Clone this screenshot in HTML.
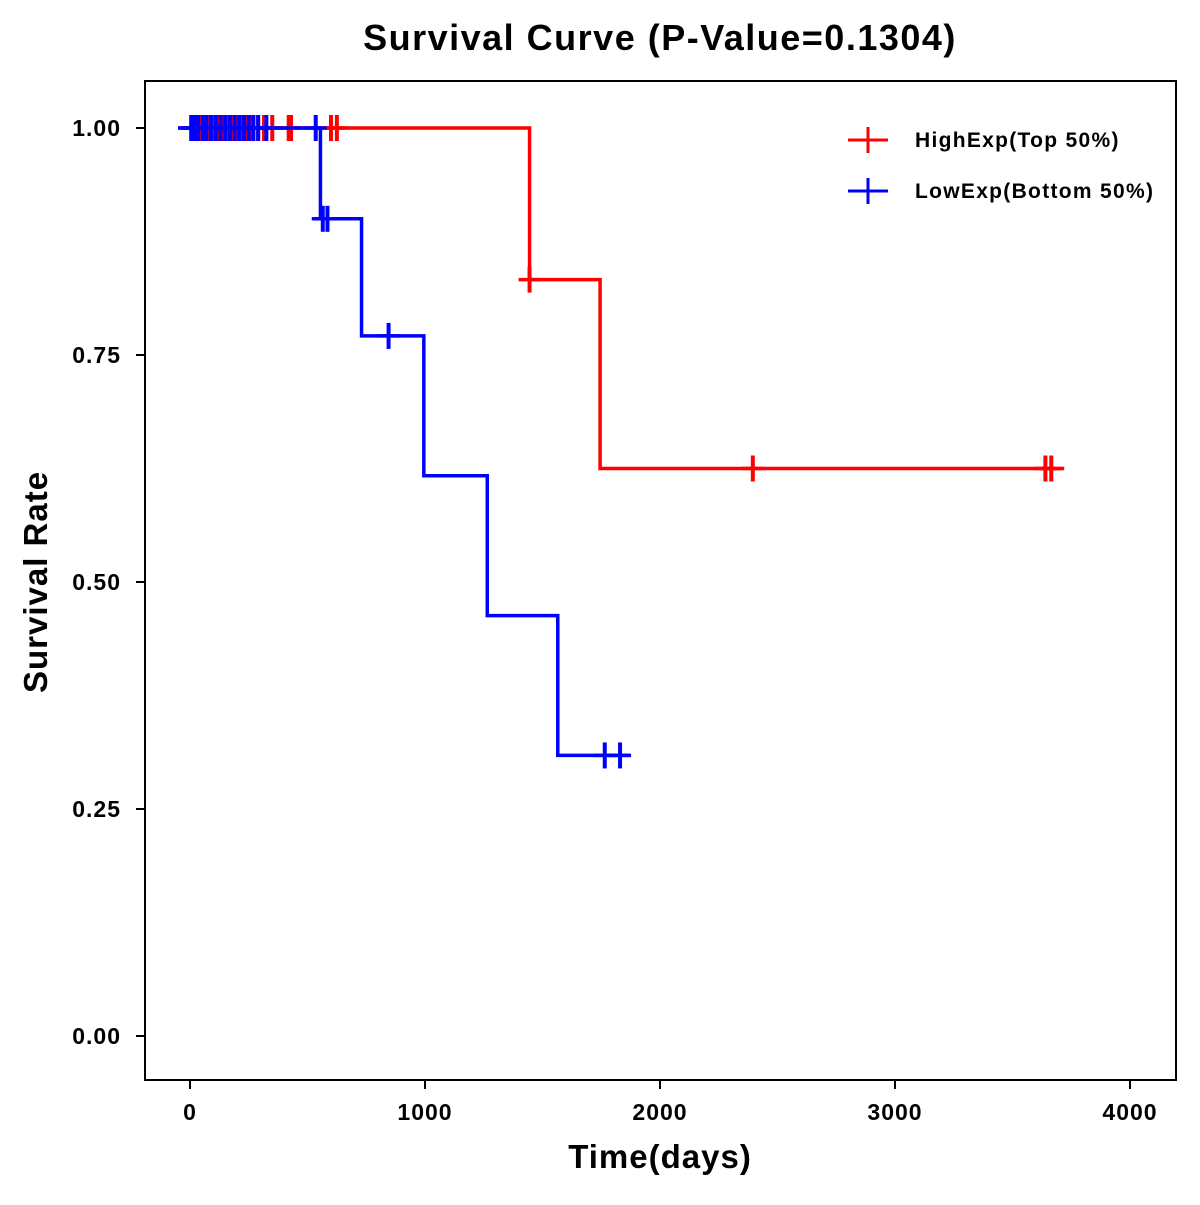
<!DOCTYPE html>
<html><head><meta charset="utf-8"><style>
body{margin:0;background:#fff}
svg text{font-family:"Liberation Sans",Arial,sans-serif;font-weight:bold}
</style></head><body>
<svg id="c" width="1200" height="1200">
<rect x="0" y="0" width="1200" height="1200" fill="#fff"/>
<text x="660" y="50" font-size="36" letter-spacing="1.5" text-anchor="middle">Survival Curve (P-Value=0.1304)</text>
<rect x="145" y="81" width="1031" height="999" fill="none" stroke="#000" stroke-width="2"/>
<text x="660" y="1168" font-size="33" letter-spacing="1" text-anchor="middle">Time(days)</text>
<text transform="translate(47,582) rotate(-90)" font-size="33" letter-spacing="1" text-anchor="middle">Survival Rate</text>
<g id="axes"></g>
<g id="series"></g>
<g>
<g>
<line x1="848" y1="140" x2="888" y2="140" stroke="#f00" stroke-width="3"/>
<line x1="868" y1="127" x2="868" y2="153" stroke="#f00" stroke-width="3"/>
<text x="915" y="147" font-size="21" letter-spacing="1.3">HighExp(Top 50%)</text></g>
<g>
<line x1="848" y1="191" x2="888" y2="191" stroke="#00f" stroke-width="3"/>
<line x1="868" y1="178" x2="868" y2="204" stroke="#00f" stroke-width="3"/>
<text x="915" y="198" font-size="21" letter-spacing="1.3">LowExp(Bottom 50%)</text></g>
</g>
</svg>
<script>
const xTicks=[0,1000,2000,3000,4000];
const yTicks=[0,0.25,0.5,0.75,1.0];
const yTickLabels=["0.00","0.25","0.50","0.75","1.00"];
const highTimes=[0,1445,1745];
const highSurv=[1,0.833,0.625];
const highEnd=3720;
const highCensor=[10,25,45,60,80,95,120,140,160,180,200,215,240,260,290,315,350,420,430,600,625,1445,2395,3640,3665];
const lowTimes=[0,555,730,995,1265,1565];
const lowSurv=[1,0.9,0.771,0.617,0.463,0.309];
const lowEnd=1870;
const lowCensor=[5,20,35,55,70,90,110,130,150,170,190,210,230,250,270,290,325,535,565,585,845,1765,1830];
const X=t=>190+t*0.235, Y=s=>1036-s*908;
const NS="http://www.w3.org/2000/svg";
function mk(tag,attrs,parent){const e=document.createElementNS(NS,tag);for(const k in attrs)e.setAttribute(k,attrs[k]);parent.appendChild(e);return e;}
const ax=document.getElementById('axes'), sr=document.getElementById('series');
xTicks.forEach(t=>{
 const l=mk('line',{x1:X(t),x2:X(t),y1:1080,y2:1089,stroke:'#000','stroke-width':2},ax);
 
 
 const tx=mk('text',{x:X(t),y:1120,'font-size':23,'letter-spacing':1,'text-anchor':'middle'},ax);tx.textContent=t;
 
 
});
yTicks.forEach((v,i)=>{
 const l=mk('line',{x1:136,x2:145,y1:Y(v),y2:Y(v),stroke:'#000','stroke-width':2},ax);
 
 
 const tx=mk('text',{x:121,y:Y(v)+8,'font-size':23,'letter-spacing':1,'text-anchor':'end'},ax);tx.textContent=yTickLabels[i];
 
 
});
function survAt(times,surv,t){let s=surv[0];for(let i=0;i<times.length;i++)if(t>=times[i])s=surv[i];return s;}
function draw(times,surv,end,cens,color,name){
 let d=`M${X(times[0])-12},${Y(surv[0])}`;
 for(let i=1;i<times.length;i++){d+=` H${X(times[i])} V${Y(surv[i])}`;}
 d+=` H${X(end)}`;
 const p=mk('path',{d:d,fill:'none',stroke:color,'stroke-width':3.5},sr);
 
 
 cens.forEach(t=>{
  const s=survAt(times,surv,t);
  const g=mk('g',{},sr);
  
  
  mk('line',{x1:X(t)-11,x2:X(t)+11,y1:Y(s),y2:Y(s),stroke:color,'stroke-width':3.5},g);
  mk('line',{x1:X(t),x2:X(t),y1:Y(s)-13,y2:Y(s)+13,stroke:color,'stroke-width':4},g);
 });
}
draw(highTimes,highSurv,highEnd,highCensor,'#f00','high-exp');
draw(lowTimes,lowSurv,lowEnd,lowCensor,'#00f','low-exp');
</script>
</body></html>
